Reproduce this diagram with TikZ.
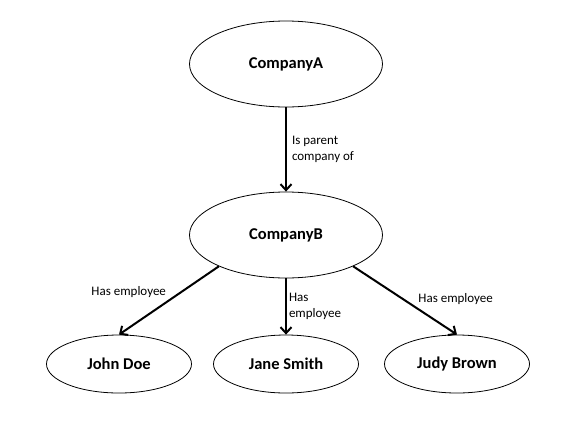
\documentclass[tikz,border=0pt]{standalone}
\usepackage{fontspec}
\setmainfont{Carlito}
\usetikzlibrary{shapes.geometric,arrows.meta}
\begin{document}
\begin{tikzpicture}[x=1pt,y=-1pt,
   company/.style={draw, ellipse, line width=0.8pt, minimum width=193pt, minimum height=86pt,
      font=\fontsize{16.5}{19}\selectfont\bfseries},
   person/.style={draw, ellipse, line width=0.8pt, minimum width=145pt, minimum height=58pt,
      font=\fontsize{16.5}{19}\selectfont\bfseries},
   rel/.style={line width=2pt, -{Straight Barb[length=6pt,width=11pt]}},
   tag/.style={font=\fontsize{13}{16}\selectfont, align=left, inner sep=2pt}]
      \useasboundingbox (0, 0) rectangle (565, 437);
      % Companies
      \node[company] (compA) at (286, 64) {CompanyA};
      \node[company] (compB) at (286, 235) {CompanyB};
      % Employees
      \node[person] (john) at (119, 364) {John Doe};
      \node[person] (jane) at (286, 364) {Jane Smith};
      \node[person] (judy) at (457, 364) {Judy Brown};
      % Parent Edge
      \draw[rel] (compA.south) -- (compB.north) node[tag, midway, right, xshift=3pt] {Is parent\\company of};
      % Employee Edges
      \draw[rel] (compB.205) -- (john.north) node[tag, midway, above left] {Has employee};
      \draw[rel] (compB.south) -- (jane.north) node[tag, midway, right] {Has\\employee};
      \draw[rel] (compB.-25) -- (judy.north) node[tag, pos=0.6, above right] {Has employee};
   \end{tikzpicture}
\end{document}
